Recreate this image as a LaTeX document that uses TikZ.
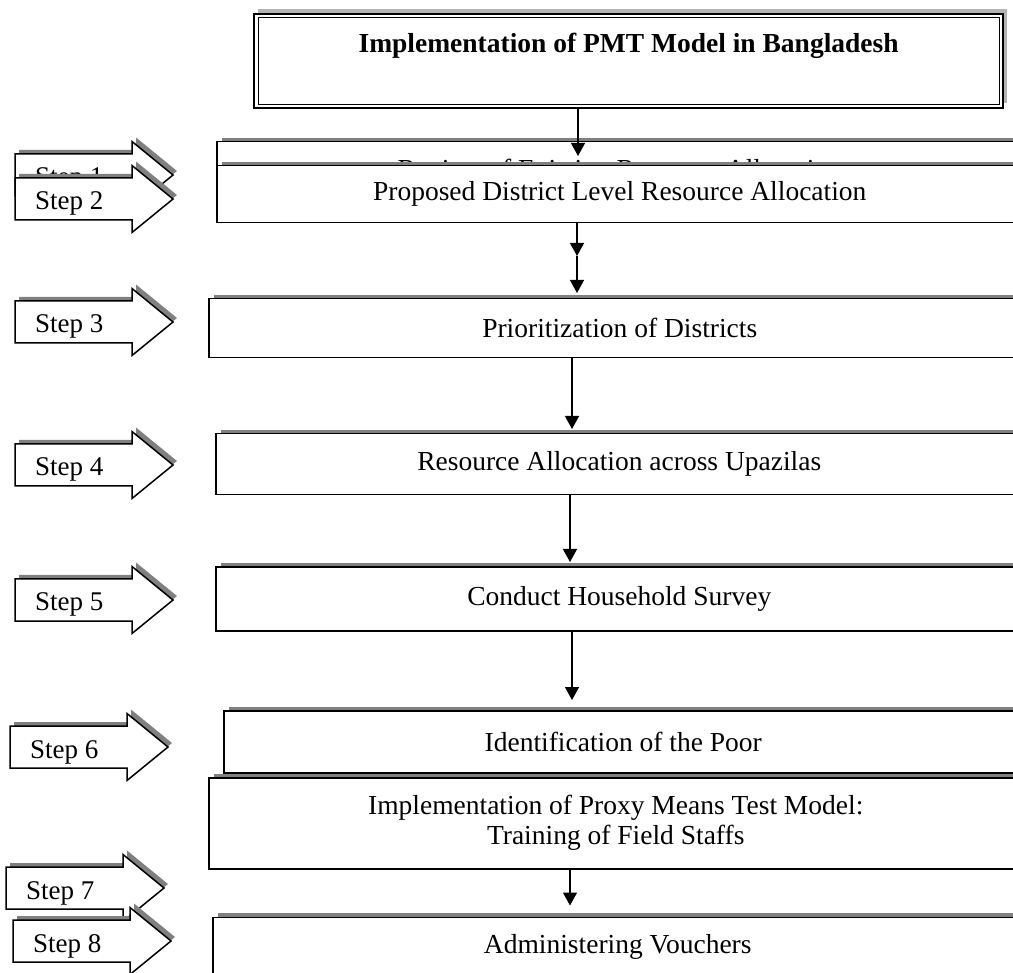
\documentclass[tikz,border=0pt]{standalone}
\usepackage{fontspec}
\setmainfont{Liberation Serif}
\usetikzlibrary{shadows,arrows.meta,calc}
\definecolor{shadowgray}{HTML}{808080}
\definecolor{lightshadow}{HTML}{B4B4B4}
\tikzset{
  boxtext/.style={font=\fontsize{27.5}{30}\selectfont},
  stepbox/.style={draw, fill=white, line width=1.5pt, rectangle, inner sep=0pt,
    anchor=north west, align=center, boxtext,
    drop shadow={shadow xshift=5pt, shadow yshift=4pt, fill=shadowgray, opacity=1}},
  steparrow/.style={draw, fill=white, line width=1.5pt, line join=miter,
    drop shadow={shadow xshift=4pt, shadow yshift=4pt, fill=shadowgray, opacity=1}},
  steptext/.style={anchor=base west, inner sep=0pt, font=\fontsize{27}{30}\selectfont},
  conn/.style={line width=1.3pt, -{Triangle[width=14pt,length=13pt]}},
  titlebox/.style={draw, fill=white, line width=2.2pt, rectangle, inner sep=0pt,
    anchor=north west, font=\fontsize{27.5}{30}\selectfont\bfseries,
    drop shadow={shadow xshift=4pt, shadow yshift=5pt, fill=lightshadow, opacity=1}}
}
\newcommand{\StepArrow}[4]{%
  \path[steparrow] (#2,#3-21) -- (#2+117,#3-21) -- (#2+117,#3-33.5) -- (#2+158,#3)
    -- (#2+117,#3+33.5) -- (#2+117,#3+21) -- (#2,#3+21) -- cycle;
  \node[steptext] (#1) at (#2+20,#3+11) {#4};
}
\begin{document}
\begin{tikzpicture}[x=1pt, y=-1pt]
\path[use as bounding box, clip] (0,0) rectangle (1013,973);

% title
\node[titlebox, minimum width=749pt, text height=38pt, text depth=56pt] (title) at (253,13)
  {Implementation of PMT Model in Bangladesh};
\draw[line width=1pt] ([shift={(5,5)}]title.north west) rectangle ([shift={(-5,-5)}]title.south east);

% step 1
\node[stepbox, minimum width=806pt, minimum height=60pt] (s1) at (216,141)
  {Review of Existing Resource Allocation};
\StepArrow{st1}{15}{175}{Step 1}
% step 2
\node[stepbox, minimum width=806pt, minimum height=57pt] (s2) at (216,165)
  {Proposed District Level Resource Allocation};
\StepArrow{st2}{15}{199}{Step 2}
% step 3
\node[stepbox, minimum width=822pt, minimum height=59pt] (s3) at (208,298)
  {Prioritization of Districts};
\StepArrow{st3}{15}{322}{Step 3}
% step 4
\node[stepbox, minimum width=807pt, minimum height=61pt] (s4) at (215,433)
  {Resource Allocation across Upazilas};
\StepArrow{st4}{15}{465}{Step 4}
% step 5
\node[stepbox, minimum width=807pt, minimum height=63.5pt] (s5) at (215,566.5)
  {Conduct Household Survey};
\StepArrow{st5}{15}{600}{Step 5}
% step 6
\node[stepbox, minimum width=799pt, minimum height=62pt] (s6) at (223,710)
  {Identification of the Poor};
\StepArrow{st6}{10}{747}{Step 6}
% implementation box
\node[stepbox, minimum width=814pt, minimum height=91pt] (s7) at (208,777)
  {Implementation of Proxy Means Test Model:\\Training of Field Staffs};
% step 8
\node[stepbox, minimum width=810pt, minimum height=60pt] (s8) at (212,916.5)
  {Administering Vouchers};
\StepArrow{st7}{6}{888}{Step 7}
\StepArrow{st8}{13}{941}{Step 8}

% connectors
\coordinate (a0) at (578,156);
\draw[conn] (a0 |- title.south) -- (a0);
\coordinate (c1) at (577,256);
\draw[conn] (c1 |- s2.south) -- (c1);
\draw[conn, shorten >=5pt] (c1) -- (c1 |- s3.north);
\coordinate (c3) at (572,0);
\draw[conn, shorten >=4pt] (c3 |- s3.south) -- (c3 |- s4.north);
\coordinate (c4) at (570,0);
\draw[conn, shorten >=4.5pt] (c4 |- s4.south) -- (c4 |- s5.north);
\coordinate (c5) at (572,0);
\draw[conn, shorten >=10pt] (c5 |- s5.south) -- (c5 |- s6.north);
\coordinate (c7) at (570,0);
\draw[conn, shorten >=11pt] (c7 |- s7.south) -- (c7 |- s8.north);
\end{tikzpicture}
\end{document}
